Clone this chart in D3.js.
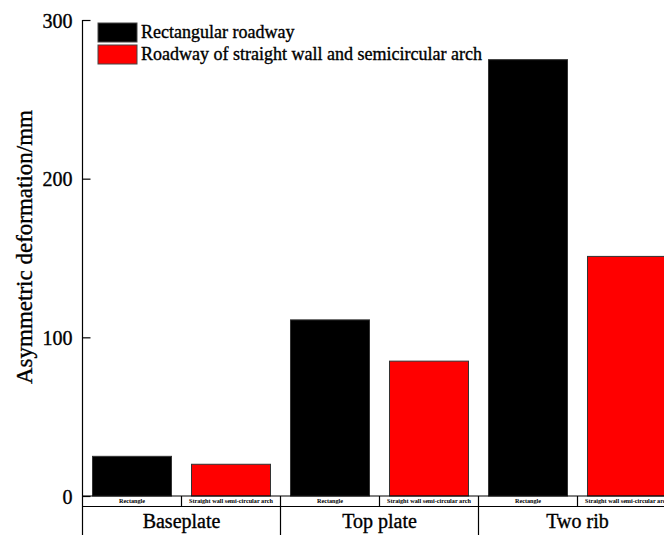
<!DOCTYPE html>
<html>
<head>
<meta charset="utf-8">
<script src="https://cdn.jsdelivr.net/npm/d3@7"></script>
<style>
  html, body { margin: 0; padding: 0; background: #fff; }
  svg { display: block; }
  text { font-family: "Liberation Serif", "Times New Roman", serif; fill: #000; stroke: #000; stroke-width: 0.35px; }
  text.sub { stroke: none; }
</style>
</head>
<body>
<svg id="chart" width="664" height="535"></svg>
<script>
// Asymmetric deformation by roadway part and roadway shape
const categories = ["Baseplate", "Top plate", "Two rib"];
const seriesNames = ["Rectangular roadway", "Roadway of straight wall and semicircular arch"];
const subLabels = ["Rectangle", "Straight wall semi-circular arch"];
const rectangularValues = [25, 111, 275];
const archValues = [20, 85, 151];
const colors = ["#000000", "#ff0000"];
const yTicks = [0, 100, 200, 300];

const svg = d3.select("#chart");

const plotLeft = 82.5, plotTop = 20, plotBase = 496;
const groupWidth = 198;

const x = d3.scaleBand()
  .domain(categories)
  .range([plotLeft, plotLeft + groupWidth * categories.length])
  .padding(0);

const xSub = d3.scaleBand()
  .domain(d3.range(seriesNames.length))
  .range([0, x.bandwidth()])
  .paddingInner(0.202)
  .paddingOuter(0.101);

const y = d3.scaleLinear().domain([0, 300]).range([plotBase, plotTop]);

const rows = categories.map((c, i) => ({
  category: c,
  values: [rectangularValues[i], archValues[i]]
}));

// bars
const groups = svg.append("g").selectAll("g")
  .data(rows).join("g")
  .attr("transform", d => `translate(${x(d.category)},0)`);

groups.selectAll("rect")
  .data(d => d.values.map((v, k) => ({ v, k })))
  .join("rect")
  .attr("x", d => xSub(d.k))
  .attr("y", d => y(d.v))
  .attr("width", xSub.bandwidth())
  .attr("height", d => y(0) - y(d.v))
  .attr("fill", d => colors[d.k])
  .attr("stroke", "#333")
  .attr("stroke-width", 1);

// y axis with inward ticks
const yAxis = d3.axisLeft(y).tickValues(yTicks).tickSize(-8).tickPadding(10).tickFormat(d3.format("d"));
const yg = svg.append("g").attr("transform", `translate(${plotLeft},0)`).call(yAxis);
yg.select(".domain").remove();
yg.selectAll(".tick line").attr("stroke", "#000").attr("stroke-width", 1.2);
yg.selectAll(".tick text")
  .attr("font-family", "Liberation Serif, Times New Roman, serif")
  .attr("font-size", 20)
  .attr("dy", "0.35em")
  .attr("x", -10);

svg.append("line")
  .attr("x1", plotLeft).attr("x2", plotLeft)
  .attr("y1", plotTop).attr("y2", 535)
  .attr("stroke", "#000").attr("stroke-width", 1.2);

// y axis title
svg.append("text")
  .attr("transform", `translate(32,247) rotate(-90)`)
  .attr("text-anchor", "middle")
  .attr("font-size", 23)
  .text("Asymmetric deformation/mm");

// two-level category axis
const subTop = plotBase, subBottom = 506.5;
const xEnd = 664;
svg.append("line").attr("x1", plotLeft).attr("x2", xEnd).attr("y1", subTop).attr("y2", subTop)
  .attr("stroke", "#000").attr("stroke-width", 1.2);
svg.append("line").attr("x1", plotLeft).attr("x2", xEnd).attr("y1", subBottom).attr("y2", subBottom)
  .attr("stroke", "#000").attr("stroke-width", 1.2);

const subCells = [];
rows.forEach(r => {
  seriesNames.forEach((s, k) => {
    subCells.push({ x0: x(r.category) + xSub.step() * k, k });
  });
});

svg.append("g").selectAll("line")
  .data(subCells.filter(d => d.x0 > plotLeft + 1))
  .join("line")
  .attr("x1", d => d.x0).attr("x2", d => d.x0)
  .attr("y1", subTop).attr("y2", subBottom)
  .attr("stroke", "#000").attr("stroke-width", 1.2);

svg.append("g").selectAll("text")
  .data(subCells)
  .join("text")
  .attr("class", "sub")
  .attr("x", d => d.x0 + xSub.step() / 2)
  .attr("y", (subTop + subBottom) / 2 + 2.2)
  .attr("text-anchor", "middle")
  .attr("font-size", 6.2)
  .attr("font-weight", "bold")
  .text(d => subLabels[d.k]);

svg.append("g").selectAll("line")
  .data(categories.slice(1))
  .join("line")
  .attr("x1", d => x(d)).attr("x2", d => x(d))
  .attr("y1", subBottom).attr("y2", 535)
  .attr("stroke", "#000").attr("stroke-width", 1.2);

svg.append("g").selectAll("text")
  .data(categories)
  .join("text")
  .attr("x", d => x(d) + x.bandwidth() / 2)
  .attr("y", 528)
  .attr("text-anchor", "middle")
  .attr("font-size", 20)
  .text(d => d);

// legend
const legend = svg.append("g").attr("transform", "translate(98,23)");
const items = legend.selectAll("g").data(seriesNames).join("g")
  .attr("transform", (d, i) => `translate(0,${i * 22})`);
items.append("rect")
  .attr("width", 39).attr("height", 19)
  .attr("fill", (d, i) => colors[i])
  .attr("stroke", "#444").attr("stroke-width", 1);
items.append("text")
  .attr("x", 43).attr("y", 15)
  .attr("font-size", 18)
  .text(d => d);
</script>
</body>
</html>
